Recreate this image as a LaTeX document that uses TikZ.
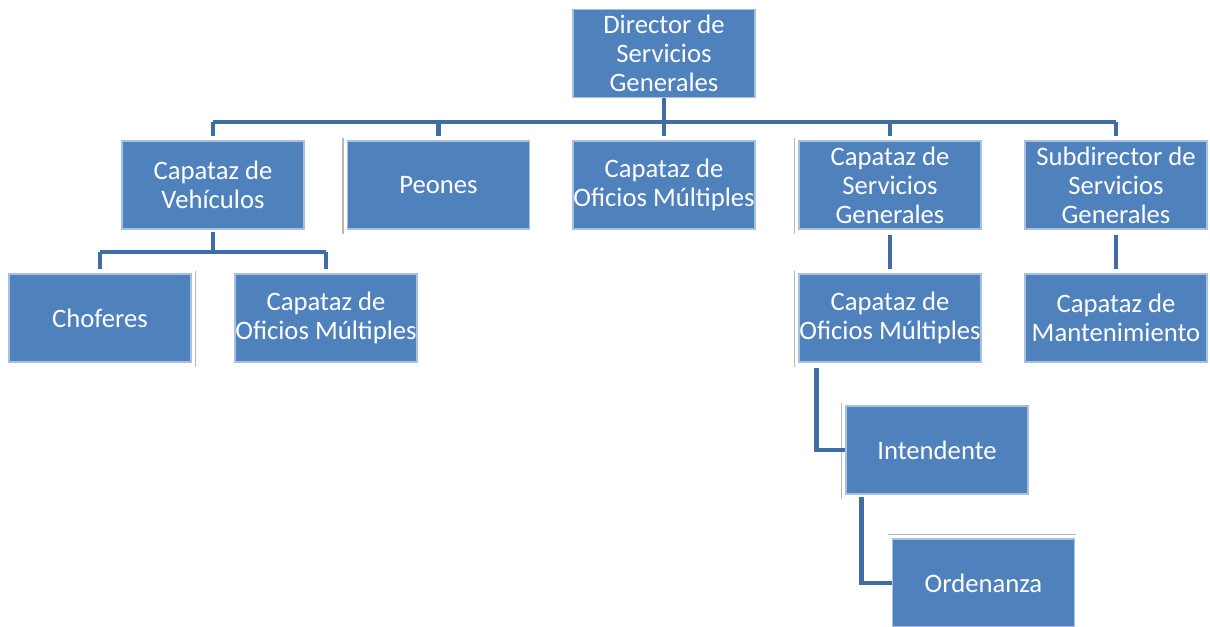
\documentclass[tikz,border=0pt]{standalone}
\usepackage{fontspec}
\setmainfont{Carlito}
\definecolor{boxfill}{HTML}{4F81BD}
\definecolor{boxline}{HTML}{A9C0DF}
\definecolor{connclr}{HTML}{416DA5}
\begin{document}
\begin{tikzpicture}[x=0.75pt,y=-0.75pt,
  unit/.style={rectangle, fill=boxfill, draw=boxline, line width=0.9pt,
    minimum width=136.5pt, minimum height=66pt, inner sep=0pt,
    align=center, text=white,
    font=\fontsize{20pt}{21.75pt}\selectfont},
  conn/.style={draw=connclr, line width=3.6pt},
  thin conn/.style={draw=connclr, line width=2.6pt},
  edge mark/.style={draw=gray!55, line width=1.2pt}]
\useasboundingbox (0,0) rectangle (1210,627);

% boxes
\node[unit] (dir) at (664,53.5) {Director de\\Servicios\\Generales};
\node[unit] (veh) at (213,185) {Capataz de\\Vehículos};
\node[unit] (peo) at (438.5,185) {Peones};
\node[unit] (ofc) at (664,185) {Capataz de\\Oficios Múltiples};
\node[unit] (ser) at (890,185) {Capataz de\\Servicios\\Generales};
\node[unit] (sub) at (1116,185) {Subdirector de\\Servicios\\Generales};
\node[unit] (cho) at (100,318) {Choferes};
\node[unit] (ofv) at (326,318) {Capataz de\\Oficios Múltiples};
\node[unit] (ofs) at (890,318) {Capataz de\\Oficios Múltiples};
\node[unit] (man) at (1116,318) {Capataz de\\Mantenimiento};
\node[unit] (int) at (937,450) {Intendente};
\node[unit] (ord) at (983.5,583) {Ordenanza};

% faint edge marks beside some boxes
\draw[edge mark] ([xshift=-3pt,yshift=2pt]peo.north west) -- ([xshift=-3pt,yshift=-3pt]peo.south west);
\draw[edge mark] ([xshift=3pt,yshift=2pt]cho.north east) -- ([xshift=3pt,yshift=-3pt]cho.south east);
\draw[edge mark] ([xshift=-3pt,yshift=2pt]ser.north west) -- ([xshift=-3pt,yshift=-3pt]ser.south west);
\draw[edge mark] ([xshift=-3pt,yshift=2pt]ofs.north west) -- ([xshift=-3pt,yshift=-3pt]ofs.south west);
\draw[edge mark] ([xshift=-3pt,yshift=2pt]int.north west) -- ([xshift=-3pt,yshift=-3pt]int.south west);
\draw[edge mark] ([xshift=-3pt,yshift=3pt]ord.north west) -- ([xshift=1pt,yshift=3pt]ord.north east);

% top level bus
\coordinate (bus) at (0,122);
\draw[conn] (dir.south) -- (dir.south |- 0,133);
\draw[conn] (veh.north |- bus) -- (sub.north |- bus);
\foreach \n in {veh,peo,ofc,ser,sub}
  \draw[conn] (\n.north |- bus) -- ([yshift=3pt]\n.north);

% vehicles branch
\coordinate (vbus) at (0,252);
\draw[thin conn] ([yshift=-2pt]veh.south) -- (veh.south |- vbus);
\draw[conn] (cho.north |- vbus) -- (ofv.north |- vbus);
\draw[conn] (cho.north |- vbus) -- ([yshift=3pt]cho.north);
\draw[conn] (ofv.north |- vbus) -- ([yshift=3pt]ofv.north);

% vertical links
\draw[thin conn] ([yshift=-4pt]ser.south) -- ([yshift=3pt]ofs.north);
\draw[conn] ([yshift=-4pt]sub.south) -- ([yshift=3pt]man.north);

% stepped links
\draw[conn] ([xshift=13.5pt,yshift=-4pt]ofs.south west) |- (int.west);
\draw[conn] ([xshift=12pt,yshift=-2pt]int.south west) |- (ord.west);
\end{tikzpicture}
\end{document}
